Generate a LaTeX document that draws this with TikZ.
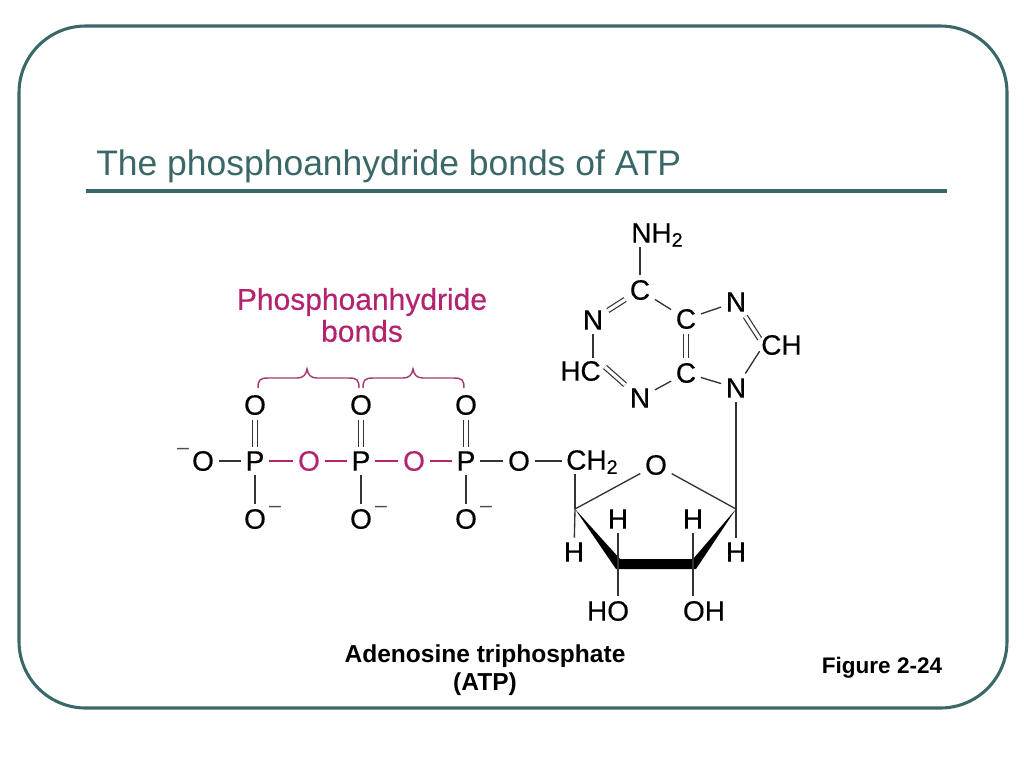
\documentclass[tikz,border=0pt]{standalone}
\usepackage{fontspec}
\setmainfont{Liberation Sans}
\newfontfamily\heavyf[FakeBold=0.35]{Liberation Sans}
\definecolor{teal}{HTML}{3A6868}
\definecolor{pinkc}{HTML}{B4246E}
\definecolor{bracec}{HTML}{A83A72}
\definecolor{bond}{HTML}{333333}
\tikzset{
  atom/.style={font=\heavyf\fontsize{21}{21}\selectfont,inner sep=3.4pt,text=black},
  pinkatom/.style={atom,text=pinkc},
  charge/.style={font=\fontsize{16}{16}\selectfont,inner sep=0pt,text=black!70},
  bondl/.style={draw=bond,line width=1pt},
  pinkbond/.style={draw=pinkc,line width=1.2pt},
  dbl/.style={draw=bond,line width=0.9pt,double=white,double distance=2.4pt},
  curly/.style={draw=bracec,line width=1.1pt},
  pinktext/.style={font=\heavyf\fontsize{22.5}{22.5}\selectfont,text=pinkc,inner sep=0pt},
  caption/.style={font=\fontsize{18.4}{18.4}\selectfont\bfseries,text=black,inner sep=0pt}
}
\begin{document}
\begin{tikzpicture}[x=0.75pt,y=-0.75pt]
\useasboundingbox (0,0) rectangle (1024,768);
\fill[white] (0,0) rectangle (1024,768);
\draw[teal,line width=2.3pt,rounded corners=50pt] (19,26) rectangle (1007,708);
\node[anchor=base west,inner sep=0pt,text=teal,font=\fontsize{26.6}{26.6}\selectfont] (title) at (96,175) {The phosphoanhydride bonds of ATP};
\coordinate (ruleL) at (86,191);
\coordinate (ruleR) at (947,191);
\draw[teal,line width=3pt] (ruleL) -- (ruleR);
% phosphates
\node[atom] (Om) at (203,461) {O};
\node[charge] (Omc) at (183,451) {–};
\foreach \n/\x in {1/255,2/361,3/466}{
  \node[atom] (Ot\n) at (\x,405) {O};
  \node[atom] (P\n) at (\x,461) {P};
  \node[atom] (Ob\n) at (\x,519) {O};
  \node[charge] (Oc\n) at (\x+20,509) {–};
  \draw[dbl] (P\n) -- (Ot\n);
  \draw[bondl] (P\n) -- (Ob\n);
}
\node[pinkatom] (Oa) at (309,461) {O};
\node[pinkatom] (Ob) at (414,461) {O};
\node[atom] (Oe) at (519,461) {O};
\node[atom,anchor=west,inner sep=0pt] (CH) at (566,462) {CH\textsubscript{2}};
\draw[bondl] (Om) -- (P1);
\draw[pinkbond] (P1) -- (Oa);
\draw[pinkbond] (Oa) -- (P2);
\draw[pinkbond] (P2) -- (Ob);
\draw[pinkbond] (Ob) -- (P3);
\draw[bondl] (P3) -- (Oe);
\draw[bondl] (Oe) -- ([xshift=-3pt]Oe -| CH.west);
% braces
\coordinate (b1a) at (258,388); \coordinate (b1t) at (307,369); \coordinate (b1b) at (359,388);
\coordinate (b2a) at (363,388); \coordinate (b2t) at (413,369); \coordinate (b2b) at (464,388);
\draw[curly] (b1a) .. controls (258,380) and (260,378) .. (268,378) -- (297,378) .. controls (303,378) and (306,375) .. (b1t) .. controls (308,375) and (311,378) .. (317,378) -- (349,378) .. controls (357,378) and (359,380) .. (b1b);
\draw[curly] (b2a) .. controls (363,380) and (365,378) .. (373,378) -- (403,378) .. controls (409,378) and (412,375) .. (b2t) .. controls (414,375) and (417,378) .. (423,378) -- (454,378) .. controls (462,378) and (464,380) .. (b2b);
\node[pinktext] (pt1) at (362,302) {Phosphoanhydride};
\node[pinktext] (pt2) at (362,331) {bonds};
% adenine
\node[atom,anchor=west,inner sep=0pt] (NH) at (631,235) {NH\textsubscript{2}};
\node[atom] (C6) at (640,290) {C};
\node[atom] (N1) at (593,320) {N};
\node[atom,anchor=east,inner sep=0pt] (HC) at (601,371) {HC};
\node[atom] (N3) at (640,398) {N};
\node[atom] (C5) at (686,319) {C};
\node[atom] (C4) at (686,373) {C};
\node[atom] (N7) at (736,302) {N};
\node[atom,anchor=west,inner sep=0pt] (C8) at (761,345) {CH};
\node[atom] (N9) at (736,388) {N};
\draw[bondl] (C6) -- (C6 |- NH.south);
\draw[dbl] (C6) -- (N1);
\draw[bondl] (C6) -- (C5);
\draw[bondl] (N1) -- ([yshift=2pt]N1 |- HC.north);
\draw[dbl] ([xshift=3pt,yshift=3pt]HC.east) -- (N3);
\draw[bondl] (N3) -- (C4);
\draw[dbl] (C5) -- (C4);
\draw[bondl] (C5) -- (N7);
\draw[bondl] (C4) -- (N9);
\draw[dbl] (N7) -- ([xshift=-1pt,yshift=-3pt]C8.north west);
\draw[bondl] (N9) -- ([xshift=-1pt,yshift=3pt]C8.south west);
% ribose
\node[atom] (Or) at (656,465) {O};
\coordinate (c4p) at (575,509);
\coordinate (c1p) at (736,509);
\coordinate (c3p) at (618,564);
\coordinate (c2p) at (693,564);
\node[atom] (H4) at (574,552) {H};
\node[atom] (H3) at (618,519) {H};
\node[atom] (H2) at (693,519) {H};
\node[atom] (H1) at (736,552) {H};
\node[atom] (HO) at (608,611) {HO};
\node[atom] (OH) at (704,611) {OH};
\draw[bondl] (c4p) -- (Or);
\draw[bondl] (Or) -- (c1p);
\fill[black] (c4p) -- (620,559) -- (693,559) -- (c1p) -- (696,569) -- (616,569) -- cycle;
\draw[bondl] (c4p) -- (c4p |- CH.south);
\draw[bondl] (c4p) -- (H4);
\draw[bondl] (c1p) -- (N9);
\draw[bondl] (c1p) -- (H1);
\draw[bondl] (c3p) -- (H3);
\draw[bondl] (c2p) -- (H2);
\draw[bondl] (c3p) -- (c3p |- HO.north);
\draw[bondl] (c2p) -- (c2p |- OH.north);
% captions
\node[caption] (cap1) at (485,656) {Adenosine triphosphate};
\node[caption] (cap2) at (485,684) {(ATP)};
\node[inner sep=0pt,font=\fontsize{16.9}{16.9}\selectfont\bfseries] (fig) at (882,668) {Figure 2-24};
\end{tikzpicture}
\end{document}
